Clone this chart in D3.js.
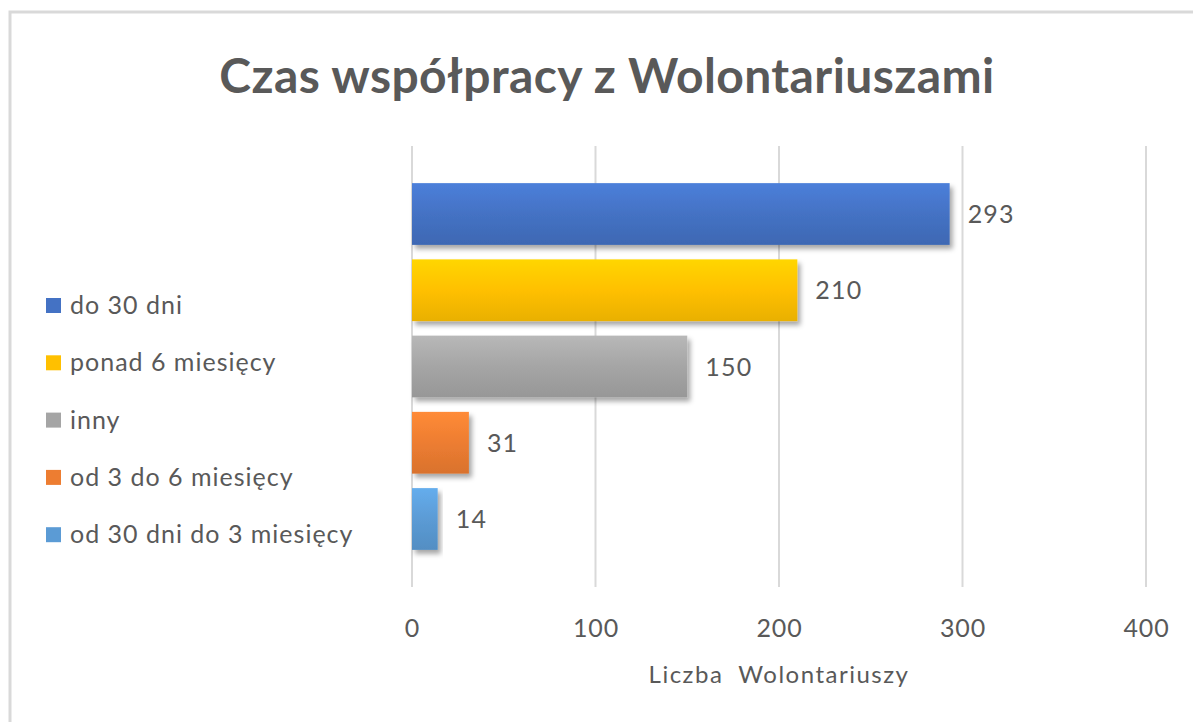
<!DOCTYPE html>
<html>
<head>
<meta charset="utf-8">
<script src="https://cdn.jsdelivr.net/npm/d3@7"></script>
<style>
  body { margin: 0; background: #fff; }
  svg text { font-family: Lato, "Open Sans", sans-serif; fill: #595959; white-space: pre; }
</style>
</head>
<body>
<svg id="chart" width="1193" height="722"></svg>
<script>
// data
let categories = ["do 30 dni", "ponad 6 miesięcy", "inny", "od 3 do 6 miesięcy", "od 30 dni do 3 miesięcy"];
let values = [293, 210, 150, 31, 14];
let xTicks = [0, 100, 200, 300, 400];
let palette = ["#4472C4", "#FFC000", "#A5A5A5", "#ED7D31", "#5B9BD5"];

let svg = d3.select("#chart");

// outer frame
svg.append("rect")
  .attr("x", 10).attr("y", 12)
  .attr("width", 1200).attr("height", 720)
  .attr("fill", "none")
  .attr("stroke", "#d9d9d9")
  .attr("stroke-width", 3);

// title
svg.append("text")
  .attr("x", 607).attr("y", 93)
  .attr("text-anchor", "middle")
  .style("font-size", "48px")
  .style("font-weight", "bold")
  .style("letter-spacing", "0.4px")
  .text("Czas współpracy z Wolontariuszami");

// scales
let xScale = d3.scaleLinear().domain([0, 400]).range([412, 1146]);
let yScale = d3.scaleBand()
  .domain(categories)
  .range([146, 587])
  .paddingInner(0.19)
  .paddingOuter(0.487);

// defs: gradients + shadow
let defs = svg.append("defs");
palette.forEach(function (c, i) {
  let g = defs.append("linearGradient")
    .attr("id", "grad" + i)
    .attr("x1", 0).attr("y1", 0).attr("x2", 0).attr("y2", 1);
  g.append("stop").attr("offset", "0%").attr("stop-color", d3.color(c).brighter(0.3));
  g.append("stop").attr("offset", "50%").attr("stop-color", c);
  g.append("stop").attr("offset", "100%").attr("stop-color", d3.color(c).darker(0.25));
});
let shadow = defs.append("filter").attr("id", "shadow")
  .attr("x", "-10%").attr("y", "-20%").attr("width", "130%").attr("height", "160%");
shadow.append("feDropShadow")
  .attr("dx", 3).attr("dy", 4)
  .attr("stdDeviation", 2.5)
  .attr("flood-color", "#000")
  .attr("flood-opacity", 0.35);

// gridlines
svg.append("g")
  .selectAll("line")
  .data(xTicks)
  .enter()
  .append("line")
  .attr("x1", d => xScale(d)).attr("x2", d => xScale(d))
  .attr("y1", 146).attr("y2", 587)
  .attr("stroke", "#d9d9d9")
  .attr("stroke-width", 2);

// x axis labels
let xAxis = d3.axisBottom(xScale).tickValues(xTicks).tickSize(0).tickPadding(0);
let axisG = svg.append("g")
  .attr("transform", "translate(0, 619)")
  .call(xAxis);
axisG.select(".domain").remove();
axisG.selectAll("text")
  .style("font-size", "25px")
  .style("letter-spacing", "0.8px")
  .style("fill", "#595959");

// axis title
svg.append("text")
  .attr("x", 779).attr("y", 683)
  .attr("text-anchor", "middle")
  .style("font-size", "24px")
  .style("letter-spacing", "1.5px")
  .text("Liczba  Wolontariuszy");

// bars
let data = categories.map(function (c, i) {
  return { cat: c, value: values[i], idx: i };
});

svg.append("g")
  .selectAll("rect")
  .data(data)
  .enter()
  .append("rect")
  .attr("x", xScale(0))
  .attr("y", d => yScale(d.cat))
  .attr("width", d => xScale(d.value) - xScale(0))
  .attr("height", yScale.bandwidth())
  .attr("fill", d => "url(#grad" + d.idx + ")")
  .attr("filter", "url(#shadow)");

// data labels
svg.append("g")
  .selectAll("text")
  .data(data)
  .enter()
  .append("text")
  .attr("x", d => xScale(d.value) + 18)
  .attr("y", d => yScale(d.cat) + yScale.bandwidth() / 2)
  .attr("dy", "0.36em")
  .style("font-size", "25px")
  .style("letter-spacing", "1.2px")
  .text(d => d.value);

// legend
let legend = svg.append("g")
  .selectAll("g")
  .data(data)
  .enter()
  .append("g")
  .attr("transform", (d, i) => "translate(46," + (305 + i * 57.3) + ")");

legend.append("rect")
  .attr("x", 0).attr("y", -7)
  .attr("width", 15).attr("height", 15)
  .attr("fill", d => palette[d.idx]);

legend.append("text")
  .attr("x", 24)
  .attr("dy", "0.36em")
  .style("font-size", "25px")
  .style("letter-spacing", "1px")
  .text(d => d.cat);
</script>
</body>
</html>
